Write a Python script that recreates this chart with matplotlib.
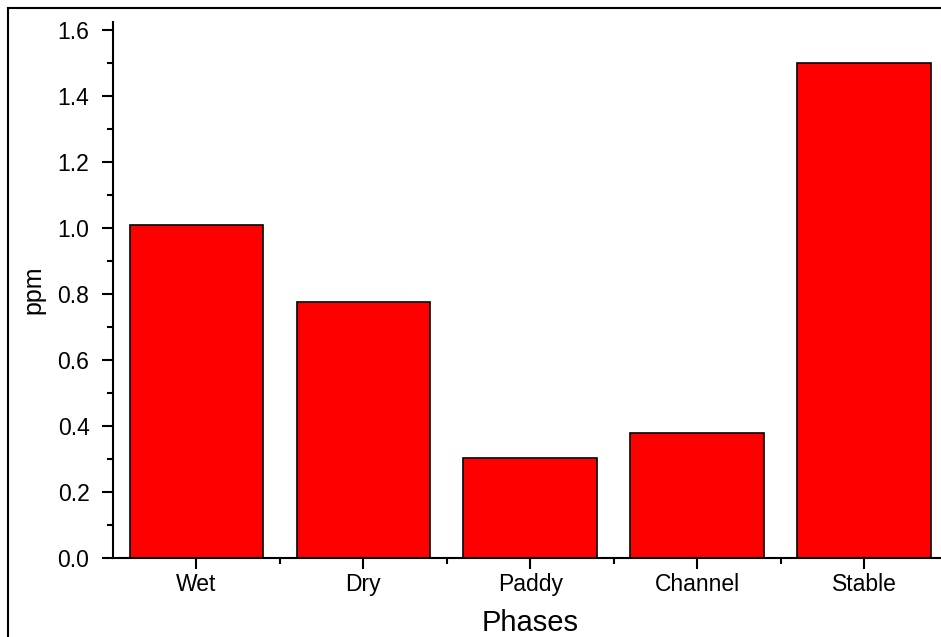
import matplotlib.pyplot as plt
from matplotlib.ticker import MultipleLocator, FixedLocator
from matplotlib.lines import Line2D

plt.rcParams['font.family'] = ['Liberation Sans', 'DejaVu Sans']

phases = ["Wet", "Dry", "Paddy", "Channel", "Stable"]
ppm = [1.01, 0.776, 0.303, 0.379, 1.50]

fig = plt.figure(figsize=(9.41, 6.37), dpi=100)
ax = fig.add_axes([113 / 941, 79 / 637, 834.5 / 941, 536 / 637])

pos = list(range(1, len(phases) + 1))
ax.bar(pos, ppm, width=0.8, color="#ff0000", edgecolor="black", linewidth=1.2)

ax.set_xlim(0.5, 5.5)
ax.set_ylim(0, 1.625)
ax.set_xticks(pos)
ax.set_xticklabels(phases)
ax.xaxis.set_minor_locator(FixedLocator([1.5, 2.5, 3.5, 4.5]))
ax.yaxis.set_major_locator(MultipleLocator(0.2))
ax.yaxis.set_minor_locator(MultipleLocator(0.1))
ax.yaxis.set_major_formatter(plt.FormatStrFormatter('%.1f'))

for s in ["top", "right"]:
    ax.spines[s].set_visible(False)
for s in ["left", "bottom"]:
    ax.spines[s].set_linewidth(1.5)

ax.tick_params(which="major", direction="out", length=8, width=1.5, labelsize=16.5)
ax.tick_params(which="minor", direction="out", length=4.5, width=1.5)
ax.tick_params(axis="y", pad=9)
ax.tick_params(axis="x", pad=3)

ax.set_xlabel("Phases", fontsize=21, labelpad=9)
ax.set_ylabel("ppm", fontsize=18, labelpad=9)

# frame around the figure (left and top visible)
fig.add_artist(Line2D([8 / 941, 8 / 941], [0, 1 - 8 / 637], color="black", lw=1.5, transform=fig.transFigure))
fig.add_artist(Line2D([8 / 941, 1], [1 - 8 / 637, 1 - 8 / 637], color="black", lw=1.5, transform=fig.transFigure))

fig.savefig("out.png", dpi=100)
